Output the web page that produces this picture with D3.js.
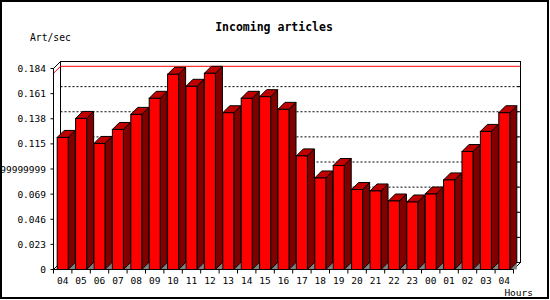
<!DOCTYPE html>
<html><head><meta charset="utf-8">
<script src="https://cdn.jsdelivr.net/npm/d3@7"></script>
<style>body{margin:0;background:#fff}svg{display:block}</style>
</head><body>
<svg id="c" width="550" height="300"></svg>
<script>
const hours = ["04","05","06","07","08","09","10","11","12","13","14","15","16","17","18","19","20","21","22","23","00","01","02","03","04"];
const artPerSec = [0.1209,0.1383,0.1154,0.1282,0.1420,0.1567,0.1787,0.1677,0.1796,0.1435,0.1567,0.1582,0.1466,0.1040,0.0838,0.0952,0.0732,0.0719,0.0627,0.0618,0.0691,0.0820,0.1080,0.1264,0.1435];
const yTickValues = [0,0.023,0.046,0.069,0.092,0.115,0.138,0.161,0.184];
const yTickLabels = ["0","0.023","0.046","0.069","0.09199999999999999","0.115","0.138","0.161","0.184"];
const title = "Incoming articles";
const yTitle = "Art/sec";
const xTitle = "Hours";

const svg = d3.select("#c");
const DX = 7, DY = 7;
const x0 = 53.5, x1 = 513.5, yBase = 269.5, yTop = 68.5;
const idx = hours.map((d,i)=>i);
const x = d3.scaleBand().domain(idx).range([x0,x1]).paddingInner(0.4).paddingOuter(0.2);
const y = d3.scaleLinear().domain([0,0.184]).range([yBase,yTop]);
const step = x.step();
const mono = "'DejaVu Sans Mono', monospace";

// frame
svg.append("rect").attr("x",1).attr("y",1).attr("width",547).attr("height",297)
  .attr("fill","#fff").attr("stroke","#000").attr("stroke-width",2);

// title
svg.append("text").attr("x",274).attr("y",31).attr("text-anchor","middle")
  .attr("font-family",mono).attr("font-weight","bold").attr("font-size","11.5px").text(title);
svg.append("text").attr("x",30).attr("y",40.5)
  .attr("font-family",mono).attr("font-size","9.7px").text(yTitle);

// back wall
const g = svg.append("g");
const bl = x0+DX, br = x1+DX, bt = y(0.184)-DY, bb = y(0)-DY;
g.append("rect").attr("x",bl).attr("y",bt).attr("width",br-bl).attr("height",bb-bt)
  .attr("fill","#fff").attr("stroke","#000").attr("stroke-width",1);
// grid
g.selectAll("line.grid").data(yTickValues.filter(v=>v>0 && v<0.184)).join("line")
  .attr("x1",bl).attr("x2",br).attr("y1",d=>y(d)-DY).attr("y2",d=>y(d)-DY)
  .attr("stroke","#000").attr("stroke-dasharray","2,2");
// right ticks
g.selectAll("line.rt").data(yTickValues).join("line")
  .attr("x1",br-3).attr("x2",br).attr("y1",d=>y(d)-DY).attr("y2",d=>y(d)-DY).attr("stroke","#000");
// side wall edges
g.append("line").attr("x1",x0).attr("y1",y(0.184)).attr("x2",bl).attr("y2",bt).attr("stroke","#000");
g.append("line").attr("x1",x0).attr("y1",yBase).attr("x2",bl).attr("y2",bb).attr("stroke","#000");
g.append("line").attr("x1",x1).attr("y1",yBase).attr("x2",br).attr("y2",bb).attr("stroke","#000");

// max line (red)
const maxV = d3.max(artPerSec);
g.append("line").attr("x1",bl).attr("x2",br).attr("y1",y(maxV)-DY).attr("y2",y(maxV)-DY).attr("stroke","#f00");
g.append("line").attr("x1",x0).attr("y1",y(maxV)).attr("x2",bl).attr("y2",y(maxV)-DY).attr("stroke","#f00");

// bars
const bars = svg.append("g").attr("stroke","#000").attr("stroke-width",1).attr("stroke-linejoin","miter");
idx.forEach(i=>{
  const xl = x(i), xr = x(i)+x.bandwidth(), yt = y(artPerSec[i]);
  bars.append("polygon").attr("points",[[xr,yBase],[xr+DX,yBase-DY],[xr+DX,yBase]].join(" "))
    .attr("fill","#808080").attr("stroke","none");
  bars.append("polygon").attr("points",[[xr,yt],[xr+DX,yt-DY],[xr+DX,yBase-DY],[xr,yBase]].join(" "))
    .attr("fill","#800000");
  bars.append("polygon").attr("points",[[xl,yt],[xl+DX,yt-DY],[xr+DX,yt-DY],[xr,yt]].join(" "))
    .attr("fill","#c00000");
  bars.append("rect").attr("x",xl).attr("y",yt).attr("width",xr-xl).attr("height",yBase-yt)
    .attr("fill","#ff0000");
});

// front axes
const ax = svg.append("g").attr("stroke","#000");
ax.append("line").attr("x1",x0).attr("x2",x0).attr("y1",yTop).attr("y2",yBase);
ax.append("line").attr("x1",x0).attr("x2",x1).attr("y1",yBase).attr("y2",yBase);
ax.selectAll("line.lt").data(yTickValues).join("line")
  .attr("x1",x0-3).attr("x2",x0).attr("y1",d=>y(d)).attr("y2",d=>y(d));
ax.selectAll("line.xt").data(d3.range(hours.length+1)).join("line")
  .attr("x1",d=>x0+d*step).attr("x2",d=>x0+d*step).attr("y1",yBase).attr("y2",yBase+4);

svg.selectAll("text.yl").data(yTickValues).join("text")
  .attr("x",46).attr("y",d=>y(d)+3.5).attr("text-anchor","end")
  .attr("font-family",mono).attr("font-size","9.5px").text((d,i)=>yTickLabels[i]);
svg.selectAll("text.xl").data(idx).join("text")
  .attr("x",d=>x(d)+x.bandwidth()/2).attr("y",283.5).attr("text-anchor","middle")
  .attr("font-family",mono).attr("font-size","9.5px").text(d=>hours[d]);
svg.append("text").attr("x",533).attr("y",296).attr("text-anchor","end")
  .attr("font-family",mono).attr("font-size","9.5px").text(xTitle);
</script>
</body></html>
